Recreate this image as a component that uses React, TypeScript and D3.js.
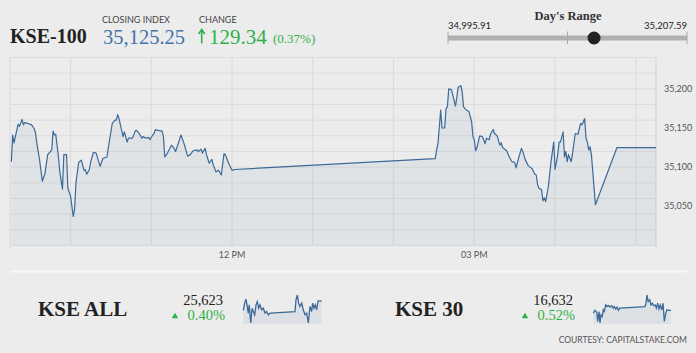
import React from 'react';
import * as d3 from 'd3';

// KSE-100 intraday (time, index)
const kseTimes = [
  '09:16', '09:17', '09:18', '09:20', '09:21', '09:22', '09:24', '09:25', '09:26', '09:28',
  '09:31', '09:33', '09:34', '09:35', '09:37', '09:39', '09:41', '09:43', '09:44', '09:46',
  '09:47', '09:48', '09:49', '09:51', '09:52', '09:54', '09:55', '09:57', '09:58', '10:00',
  '10:02', '10:03', '10:04', '10:06', '10:08', '10:10', '10:11', '10:12', '10:14', '10:15',
  '10:17', '10:19', '10:22', '10:24', '10:27', '10:29', '10:31', '10:33', '10:34', '10:35',
  '10:36', '10:39', '10:40', '10:42', '10:43', '10:46', '10:48', '10:49', '10:51', '10:53',
  '10:54', '10:56', '10:58', '10:59', '11:01', '11:02', '11:03', '11:05', '11:08', '11:09',
  '11:10', '11:12', '11:15', '11:17', '11:18', '11:20', '11:22', '11:24', '11:25', '11:27',
  '11:29', '11:31', '11:34', '11:35', '11:37', '11:38', '11:40', '11:41', '11:43', '11:45',
  '11:46', '11:48', '11:50', '11:52', '11:54', '11:55', '11:57', '11:58', '12:00', '12:02',
  '14:31', '14:32', '14:33', '14:34', '14:35', '14:36', '14:38', '14:39', '14:40', '14:41',
  '14:43', '14:46', '14:47', '14:48', '14:50', '14:51', '14:52', '14:54', '14:56', '14:58',
  '14:59', '15:00', '15:01', '15:02', '15:04', '15:06', '15:08', '15:09', '15:11', '15:12',
  '15:14', '15:15', '15:17', '15:19', '15:20', '15:21', '15:24', '15:26', '15:28', '15:30',
  '15:31', '15:33', '15:35', '15:36', '15:38', '15:40', '15:43', '15:45', '15:46', '15:47',
  '15:48', '15:50', '15:51', '15:52', '15:53', '15:55', '15:57', '15:59', '16:00', '16:02',
  '16:03', '16:04', '16:06', '16:07', '16:08', '16:09', '16:10', '16:12', '16:13', '16:15',
  '16:17', '16:18', '16:19', '16:20', '16:22', '16:23', '16:24', '16:25', '16:26', '16:27',
  '16:30', '16:46', '17:15',
];
const kseValues = [
  35107, 35141, 35131, 35147, 35155, 35152, 35161, 35154, 35157, 35156,
  35154, 35149, 35143, 35130, 35109, 35082, 35092, 35116, 35118, 35122,
  35146, 35141, 35142, 35113, 35094, 35072, 35116, 35116, 35073, 35063,
  35037, 35046, 35080, 35106, 35109, 35096, 35097, 35091, 35097, 35107,
  35119, 35118, 35101, 35111, 35113, 35135, 35156, 35160, 35160, 35167,
  35162, 35139, 35145, 35132, 35137, 35137, 35146, 35147, 35143, 35137,
  35139, 35137, 35138, 35135, 35141, 35143, 35148, 35147, 35146, 35139,
  35113, 35118, 35128, 35124, 35120, 35130, 35141, 35132, 35126, 35114,
  35116, 35121, 35122, 35120, 35123, 35118, 35124, 35116, 35105, 35110,
  35103, 35094, 35096, 35090, 35117, 35116, 35107, 35103, 35096, 35097,
  35111, 35122, 35130, 35151, 35173, 35150, 35150, 35175, 35177, 35200,
  35199, 35178, 35189, 35202, 35204, 35196, 35177, 35173, 35171, 35158,
  35139, 35135, 35121, 35125, 35140, 35139, 35130, 35137, 35135, 35142,
  35148, 35143, 35140, 35128, 35131, 35125, 35121, 35113, 35107, 35106,
  35099, 35112, 35124, 35120, 35109, 35102, 35098, 35091, 35090, 35078,
  35073, 35071, 35057, 35061, 35056, 35075, 35107, 35132, 35097, 35116,
  35132, 35132, 35145, 35113, 35120, 35107, 35116, 35107, 35118, 35143,
  35142, 35149, 35156, 35154, 35162, 35137, 35132, 35122, 35126, 35116,
  35052, 35125, 35125,
];

const gridValues = d3.range(35000, 35241, 20);
const yLabelValues = [35050, 35100, 35150, 35200];

// KSE ALL sparkline
const allTimes = [
  '09:17', '09:25', '09:33', '09:41', '09:47', '09:53', '10:02', '10:10', '10:18', '10:26',
  '10:34', '10:42', '10:50', '10:58', '11:09', '11:18', '11:29', '11:39', '11:49', '11:55',
  '12:02', '14:31', '14:37', '14:45', '14:53', '15:01', '15:12', '15:21', '15:32', '15:42',
  '15:52', '16:02', '16:12', '16:18', '16:26', '16:34', '16:42', '16:51', '17:03', '17:13',
];
const allValues = [
  25580, 25613, 25631, 25598, 25568, 25605, 25523, 25590, 25575, 25560,
  25605, 25620, 25590, 25605, 25583, 25590, 25568, 25575, 25560, 25565,
  25568, 25575, 25628, 25650, 25613, 25598, 25613, 25583, 25560, 25568,
  25523, 25598, 25575, 25613, 25590, 25605, 25583, 25623, 25623, 25623,
];

// KSE 30 sparkline
const k30Times = [
  '09:17', '09:27', '09:38', '09:44', '09:52', '09:58', '10:04', '10:12', '10:18', '10:25',
  '10:33', '10:41', '10:49', '11:00', '11:10', '11:20', '11:26', '11:35', '11:43', '11:51',
  '11:59', '14:35', '14:41', '14:47', '14:55', '15:04', '15:12', '15:20', '15:28', '15:37',
  '15:45', '15:53', '16:01', '16:09', '16:18', '16:26', '16:34', '16:43', '16:50', '16:59',
  '17:15',
];
const k30Values = [
  16622, 16632, 16625, 16592, 16628, 16586, 16616, 16610, 16634, 16628,
  16652, 16646, 16650, 16644, 16649, 16640, 16646, 16637, 16644, 16632,
  16640, 16646, 16658, 16688, 16664, 16670, 16652, 16658, 16649, 16652,
  16640, 16658, 16637, 16652, 16634, 16658, 16592, 16622, 16634, 16632,
  16632,
];

const closing = 35125.25;
const dayLow = 34995.91;
const dayHigh = 35207.59;

const parse = d3.timeParse('%H:%M');
const sessionStart = parse('09:15') as Date;
const sessionEnd = parse('17:15') as Date;

const serif = '"Liberation Serif", serif';
const sans = 'Lato, "Open Sans", sans-serif';
const BLUE = '#3b6a99';
const GREEN = '#2fb14a';

function Spark({ times, values, x0, x1 }: { times: string[]; values: number[]; x0: number; x1: number }) {
  const pts = times.map((t, i) => ({ t: parse(t) as Date, v: values[i] }));
  const sx = d3.scaleTime().domain([sessionStart, sessionEnd]).range([x0, x1]);
  const sy = d3.scaleLinear().domain(d3.extent(values) as [number, number]).range([323, 295]);
  const line = d3.line<any>().x(d => sx(d.t)).y(d => sy(d.v));
  const area = d3.area<any>().x(d => sx(d.t)).y0(324).y1(d => sy(d.v));
  return (
    <g>
      <path d={area(pts) || ''} fill="#4a7aaa" fillOpacity={0.09} />
      <path d={line(pts) || ''} fill="none" stroke={BLUE} strokeWidth={1.3} />
    </g>
  );
}

export default function App() {
  const W = 696, H = 353;
  const left = 10, right = 656, top = 57.5, bottom = 245.5;

  const x = d3.scaleTime().domain([sessionStart, sessionEnd]).range([left, right]);
  const y = d3.scaleLinear().domain([35000, 35240]).range([bottom, top]);

  const data = kseTimes.map((t, i) => ({ t: parse(t) as Date, v: kseValues[i] }));
  const line = d3.line<any>().x(d => x(d.t)).y(d => y(d.v));
  const area = d3.area<any>().x(d => x(d.t)).y0(bottom).y1(d => y(d.v));

  const hourTicks = x.ticks(d3.timeHour.every(1) as any);
  const labelTicks = x.ticks(d3.timeHour.every(3) as any);
  const fmt = d3.timeFormat('%I %p');
  const num = d3.format(',');

  // day's range slider
  const r = d3.scaleLinear().domain([dayLow, dayHigh]).range([448, 687]);
  const rangeMid = (dayLow + dayHigh) / 2;

  const tri = d3.symbol().type(d3.symbolTriangle).size(18)() || '';

  return (
    <svg width={W} height={H} style={{ position: 'absolute', left: 0, top: 0 }}>
      <rect width={W} height={H} fill="#ececec" />

      {/* header */}
      <text x={10} y={43} fontFamily={serif} fontWeight="bold" fontSize={20} fill="#222">KSE-100</text>
      <text x={102} y={23} fontFamily={sans} fontSize={9} fill="#444">CLOSING INDEX</text>
      <text x={103} y={43.5} fontFamily={serif} fontSize={20.5} fill="#3f73a9">{d3.format(',.2f')(closing)}</text>
      <text x={199} y={23} fontFamily={sans} fontSize={9} fill="#444">CHANGE</text>
      <path d="M201.7,30.5 L201.7,43.5 M198.6,34 L201.7,29.5 L204.8,34" fill="none" stroke={GREEN} strokeWidth={1.6} />
      <text x={209} y={43.5} fontFamily={serif} fontSize={21} fill={GREEN}>129.34</text>
      <text x={273} y={42.5} fontFamily={serif} fontSize={13} fill={GREEN}>(0.37%)</text>

      <text x={568} y={20} textAnchor="middle" fontFamily={serif} fontWeight="bold" fontSize={12.5} fill="#333">Day's Range</text>
      <text x={r(dayLow)} y={28.5} fontFamily={sans} fontSize={9.5} fill="#222">{d3.format(',.2f')(dayLow)}</text>
      <text x={r(dayHigh)} y={28.5} textAnchor="end" fontFamily={sans} fontSize={9.5} fill="#222">{d3.format(',.2f')(dayHigh)}</text>
      <rect x={r(dayLow)} y={35.5} width={r(dayHigh) - r(dayLow)} height={5} fill="#b0b0b0" />
      {[dayLow, rangeMid, dayHigh].map((v, i) => (
        <line key={i} x1={r(v)} x2={r(v)} y1={31.5} y2={44} stroke="#a8a8a8" strokeWidth={1} />
      ))}
      <circle cx={r(closing)} cy={38} r={6.5} fill="#222" />

      {/* grid */}
      {gridValues.map(v => (
        <line key={v} x1={left} x2={right} y1={y(v)} y2={y(v)} stroke="#dcdcdc" strokeWidth={1} />
      ))}
      {hourTicks.map(t => (
        <line key={+t} x1={x(t)} x2={x(t)} y1={top} y2={bottom} stroke="#dcdcdc" strokeWidth={1.2} />
      ))}
      <line x1={left} x2={left} y1={top} y2={bottom + 4} stroke="#dcdcdc" strokeWidth={1.2} />
      <line x1={right} x2={right} y1={top} y2={bottom + 4} stroke="#d2d2d2" strokeWidth={1} />

      {/* series */}
      <path d={area(data) || ''} fill="#4a7aaa" fillOpacity={0.08} />
      <path d={line(data) || ''} fill="none" stroke={BLUE} strokeWidth={1.2} strokeLinejoin="round" />

      {/* axes labels */}
      {yLabelValues.map(v => (
        <text key={v} x={664} y={y(v)} dy="0.35em" fontFamily={sans} fontSize={9} fill="#555">{num(v)}</text>
      ))}
      {labelTicks.map(t => (
        <text key={+t} x={x(t)} y={257.5} textAnchor="middle" fontFamily={sans} fontSize={9} fill="#555">{fmt(t)}</text>
      ))}

      {/* bottom strip */}
      <line x1={10} x2={687} y1={271.5} y2={271.5} stroke="#f7f7f7" strokeWidth={2} />

      <text x={38} y={316} fontFamily={serif} fontWeight="bold" fontSize={21} fill="#222">KSE ALL</text>
      <text x={223} y={305} textAnchor="end" fontFamily={serif} fontSize={14.5} fill="#222">25,623</text>
      <path d={tri} transform="translate(175,316.5)" fill={GREEN} />
      <text x={225} y={320} textAnchor="end" fontFamily={serif} fontSize={14.5} fill={GREEN}>0.40%</text>
      <Spark times={allTimes} values={allValues} x0={243} x1={322} />

      <text x={395} y={316} fontFamily={serif} fontWeight="bold" fontSize={21} fill="#222">KSE 30</text>
      <text x={573} y={305} textAnchor="end" fontFamily={serif} fontSize={14.5} fill="#222">16,632</text>
      <path d={tri} transform="translate(525,316.5)" fill={GREEN} />
      <text x={575} y={320} textAnchor="end" fontFamily={serif} fontSize={14.5} fill={GREEN}>0.52%</text>
      <Spark times={k30Times} values={k30Values} x0={593} x1={671} />

      <text x={687} y={343} textAnchor="end" fontFamily={sans} fontSize={8.5} fill="#555">COURTESY: CAPITALSTAKE.COM</text>
    </svg>
  );
}
